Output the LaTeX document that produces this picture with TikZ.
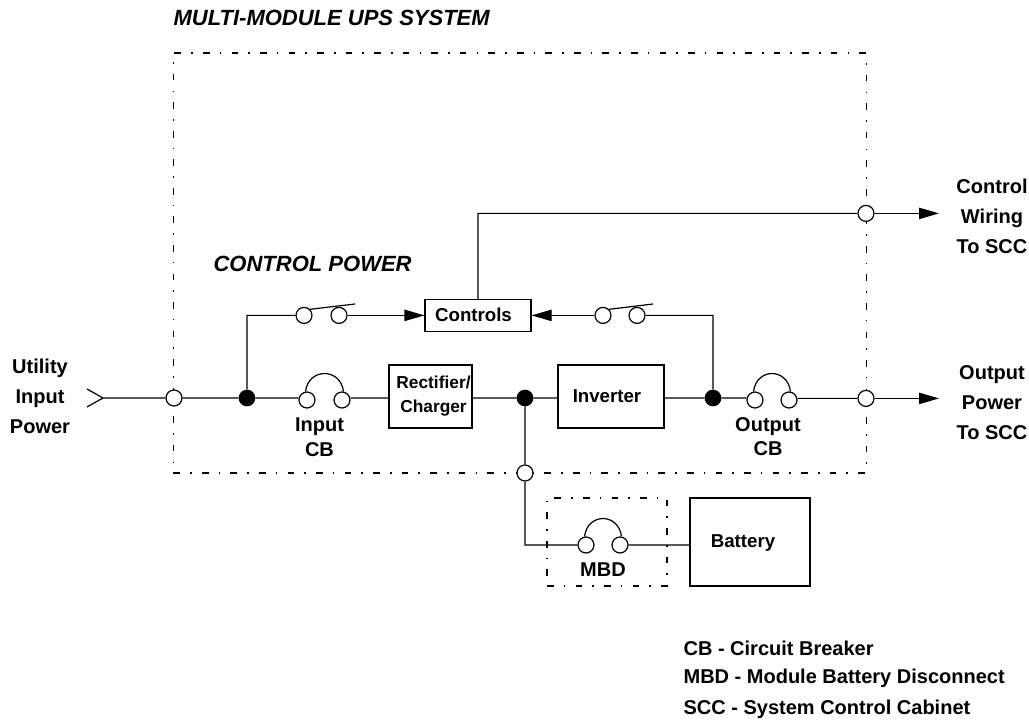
\documentclass[tikz,border=0pt]{standalone}
\usepackage{fontspec}
\setmainfont{Liberation Sans}
\usetikzlibrary{arrows.meta}
\tikzstyle{j}=[fill,circle,draw,inner sep=0,minimum size=11.6pt]
\tikzstyle{o}=[fill=white,circle,draw,inner sep=0,minimum size=12pt]
\tikzstyle{b}=[draw,fill=white,inner sep=0]
\tikzstyle{dd}=[draw,inner sep=0,line width=0.8pt,dash pattern=on 5pt off 7.6pt on 1.2pt off 7.6pt]
\tikzstyle{t}=[inner sep=0,align=center,font=\bfseries\fontsize{15}{22.5}\selectfont]
\tikzstyle{tb}=[inner sep=0,align=center,font=\bfseries\fontsize{14}{18}\selectfont]
\tikzstyle{ti}=[t,font=\bfseries\itshape\fontsize{16.5}{20}\selectfont]
\tikzstyle{tip}=[-{Triangle[length=15pt,width=8.5pt]}]

\begin{document}
\begin{tikzpicture}[x=0.75pt,y=-0.75pt,line width=0.9pt]
    \useasboundingbox (0,0) rectangle (1029,720);

    \node[dd,minimum width=519.5pt,minimum height=315pt] (ups) at (519.75,263) {};
    \node[dd,minimum width=90pt,minimum height=66pt] (mbdbox) at (607,542) {};

    \coordinate (in) at (103,398);
    \coordinate (outend) at (939,398.4);
    \coordinate (ctlend) at (939,213.4);

    \node[o] (pin) at (174,398) {};
    \node[j] (ja) at (247,398) {};
    \node[o] (ia) at (307,400) {};
    \node[o] (ib) at (342,400) {};
    \node[b,minimum width=62.25pt,minimum height=47.25pt] (rect) at (430.5,396.5) {};
    \node[j] (jb) at (525,398) {};
    \node[b,minimum width=79.5pt,minimum height=47.25pt] (inv) at (611,396.5) {};
    \node[j] (jc) at (713,398) {};
    \node[o] (oa) at (755,400) {};
    \node[o] (ob) at (789,400) {};
    \node[o] (pout) at (866,398.4) {};

    \node[o] (sa) at (304,315.4) {};
    \node[o] (sb) at (339,315.4) {};
    \node[b,minimum width=79.5pt,minimum height=24pt] (ctl) at (478,315.4) {};
    \node[o] (sc) at (603,315.4) {};
    \node[o] (sd) at (637,315.4) {};
    \node[o] (pctl) at (866,213.4) {};

    \node[o] (pbat) at (525,473) {};
    \node[o] (ma) at (586,545) {};
    \node[o] (mb) at (620,545) {};
    \node[b,minimum width=90pt,minimum height=66pt] (bat) at (750,542) {};

    \coordinate (bladea) at (355,304);
    \coordinate (bladeb) at (653,304);

    \draw
    (in) ++(-16,-9) -- (in) -- ++(-16,9)
    (in) -- (pin)
    (pin) -- (ja)
    (ja) -- (ja -| ia.west)
    (ib.east |- ja) -- (ja -| rect.west)
    (ja -| rect.east) -- (jb)
    (jb) -- (jb -| inv.west)
    (jb -| inv.east) -- (jc)
    (jc) -- (jc -| oa.west)
    (ob.east |- pout) -- (pout)
    (ja) |- (sa)
    (sd) -| (jc)
    (jb) -- (pbat)
    (pbat) |- (ma)
    (mb) -- (mb -| bat.west)
    (ctl) -- (ctl |- pctl) -- (pctl)
    (sa.45) -- (bladea)
    (sc.45) -- (bladeb)
    (ia.100) .. controls +(3,-24) and +(-3,-24) .. (ib.80)
    (oa.100) .. controls +(3,-24) and +(-3,-24) .. (ob.80)
    (ma.100) .. controls +(3,-24) and +(-3,-24) .. (mb.80)
    ;

    \draw[tip] (sb) -- (ctl);
    \draw[tip] (sc) -- (ctl);
    \draw[tip] (pout) -- (outend);
    \draw[tip] (pctl) -- (ctlend);

    \node[ti,anchor=west] (title) at (173,18) {MULTI-MODULE UPS SYSTEM};
    \node[ti,anchor=west] (cpower) at (213,264) {CONTROL POWER};
    \node[tb] (ctltext) at (473.5,315) {Controls};
    \node[tb,font=\bfseries\fontsize{13}{18}\selectfont] (recttext) at (433.5,396) {Rectifier/\\Charger};
    \node[tb] (invtext) at (607,396) {Inverter};
    \node[tb] (battext) at (743,543) {Battery};
    \node[t,font=\bfseries\fontsize{15}{18.75}\selectfont] (itext) at (319.5,437.5) {Input\\CB};
    \node[t,font=\bfseries\fontsize{15}{18}\selectfont] (otext) at (768,437) {Output\\CB};
    \node[t] (mtext) at (603,570) {MBD};
    \node[t] (utext) at (40,396) {Utility\\Input\\Power};
    \node[t] (cwtext) at (992,216) {Control\\Wiring\\To SCC};
    \node[t] (optext) at (992,403) {Output\\Power\\To SCC};
    \node[t,anchor=west] (lega) at (683,648) {CB - Circuit Breaker};
    \node[t,anchor=west] (legb) at (683,678) {MBD - Module Battery Disconnect};
    \node[t,anchor=west] (legc) at (683,709) {SCC - System Control Cabinet};
\end{tikzpicture}
\end{document}
